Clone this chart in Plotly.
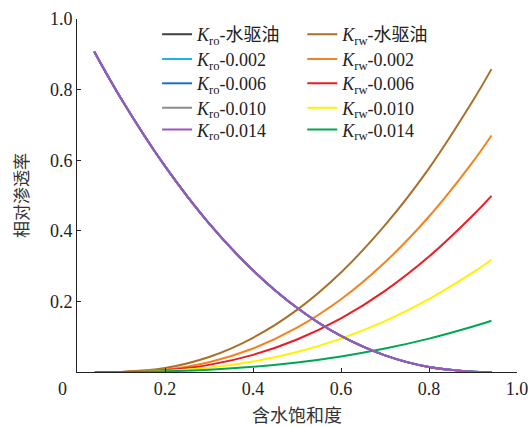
import plotly.graph_objects as go

# water saturation grid
sw_ro = [0.039, 0.1, 0.2, 0.3, 0.4, 0.5, 0.6, 0.7, 0.8, 0.9, 0.942]
kro = [0.908, 0.775, 0.583, 0.421, 0.288, 0.182, 0.102, 0.047, 0.014, 0.001, 0.0]

sw_rw = [0.08, 0.1, 0.2, 0.3, 0.4, 0.5, 0.6, 0.7, 0.8, 0.9, 0.942]
krw_base = [0.0, 0.0002, 0.0112, 0.0426, 0.097, 0.176, 0.282, 0.416, 0.577, 0.769, 0.858]
krw_002 = [0.0, 0.0001, 0.0068, 0.0278, 0.0666, 0.1255, 0.206, 0.311, 0.4405, 0.596, 0.670]
krw_006 = [0.0, 0.0001, 0.0049, 0.0202, 0.0486, 0.0921, 0.152, 0.230, 0.327, 0.444, 0.499]
krw_010 = [0.0, 0.0001, 0.0028, 0.012, 0.0295, 0.0566, 0.0946, 0.1442, 0.2065, 0.282, 0.318]
sw_rw14 = [0.04, 0.1, 0.2, 0.3, 0.4, 0.5, 0.6, 0.7, 0.8, 0.9, 0.942]
krw_014 = [0.0, 0.0002, 0.0019, 0.0065, 0.0146, 0.0269, 0.044, 0.0664, 0.0945, 0.1287, 0.145]

labels = ["水驱油", "0.002", "0.006", "0.010", "0.014"]
ro_colors = ["#404040", "#19b4ea", "#1f6fc0", "#8c8c8c", "#9a55c0"]
rw_colors = ["#a87028", "#f5821f", "#ec1c24", "#fff200", "#00a651"]
tick_vals = [0.2, 0.4, 0.6, 0.8, 1.0]
tick_text = ["0.2", "0.4", "0.6", "0.8", "1.0"]

krw_sets = [(sw_rw, krw_base), (sw_rw, krw_002), (sw_rw, krw_006),
            (sw_rw, krw_010), (sw_rw14, krw_014)]

FONT = "Liberation Serif, Noto Sans CJK SC"
TXT = "#222"

# legend row positions (paper fraction) and column positions
row_y = [0.956, 0.886, 0.817, 0.748, 0.686]
col_x = [0.182, 0.512]

fig = go.Figure()
legends = {}
for i, (lab, col) in enumerate(zip(labels, rw_colors)):
    xs, ys = krw_sets[i]
    lname = "legend%d" % (2 * i + 2)
    fig.add_trace(go.Scatter(
        x=xs, y=ys, mode="lines", line=dict(color=col, width=2, shape="spline"),
        name="<i>K</i><sub>rw</sub>-" + lab, legend=lname, showlegend=True))
    legends[lname] = dict(x=col_x[1], y=row_y[i])
for i, (lab, col) in enumerate(zip(labels, ro_colors)):
    lname = "legend" if i == 0 else "legend%d" % (2 * i + 1)
    fig.add_trace(go.Scatter(
        x=sw_ro, y=kro, mode="lines", line=dict(color=col, width=2, shape="spline"),
        name="<i>K</i><sub>ro</sub>-" + lab, legend=lname, showlegend=True))
    legends[lname] = dict(x=col_x[0], y=row_y[i])

for lname, pos in legends.items():
    legends[lname] = dict(x=pos["x"], y=pos["y"], xanchor="left", yanchor="middle",
                          font=dict(family=FONT, size=18, color=TXT),
                          bgcolor="rgba(0,0,0,0)", itemwidth=30, visible=True)

axis_common = dict(range=[0, 1], tickvals=tick_vals, ticktext=tick_text,
                   ticks="inside", ticklen=4, tickcolor=TXT, showline=True,
                   linecolor=TXT, linewidth=1, showgrid=False, zeroline=False,
                   automargin=False, ticklabeloverflow="allow",
                   tickfont=dict(family=FONT, size=18, color=TXT))

fig.update_layout(
    width=528, height=427,
    margin=dict(l=77, r=11, t=19, b=55),
    paper_bgcolor="white", plot_bgcolor="white",
    showlegend=True,
    font=dict(family=FONT, size=18, color=TXT),
    xaxis=dict(**axis_common,
               title=dict(text="含水饱和度", standoff=11,
                          font=dict(family="Noto Sans CJK SC", size=18, color="#333"))),
    yaxis=dict(**axis_common,
               title=dict(text="相对渗透率", standoff=16,
                          font=dict(family="Noto Sans CJK SC", size=17, color="#333"))),
    annotations=[dict(text="0", xref="paper", yref="paper", x=-0.032, y=-0.048,
                      xanchor="center", yanchor="middle", showarrow=False,
                      font=dict(family=FONT, size=18, color=TXT))],
    **legends,
)
fig.write_html("out.html")
